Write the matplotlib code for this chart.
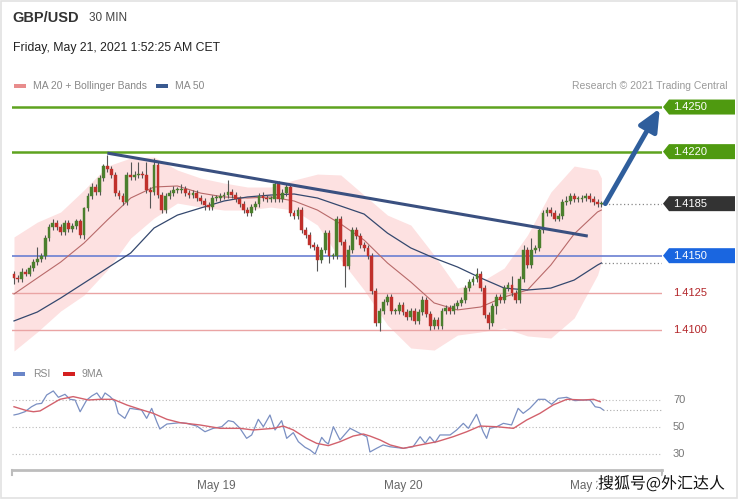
import numpy as np
import pandas as pd
import matplotlib
matplotlib.use("Agg")
import matplotlib.pyplot as plt
from matplotlib.patches import Polygon, Rectangle
from matplotlib.transforms import blended_transform_factory
import matplotlib.patheffects as pe

plt.rcParams['font.family'] = ['Liberation Sans', 'Noto Sans CJK SC', 'DejaVu Sans']

# 30 min candles, GBP/USD
closes = [1.4135, 1.4134, 1.4139, 1.4138, 1.4142, 1.4146, 1.4148, 1.4150, 1.4162, 1.4169,
          1.4172, 1.4169, 1.4166, 1.4172, 1.4168, 1.4170, 1.4173, 1.4164, 1.4182, 1.4190,
          1.4196, 1.4193, 1.4202, 1.4210, 1.4208, 1.4204, 1.4192, 1.4190, 1.4186, 1.4204,
          1.4203, 1.4204, 1.4205, 1.4204, 1.4194, 1.4193, 1.4211, 1.4191, 1.4181, 1.4190,
          1.4192, 1.4194, 1.4194, 1.4195, 1.4192, 1.4191, 1.4192, 1.4189, 1.4187, 1.4184,
          1.4183, 1.4189, 1.4189, 1.4190, 1.4191, 1.4193, 1.4191, 1.4188, 1.4185, 1.4181,
          1.4179, 1.4183, 1.4185, 1.4190, 1.4189, 1.4188, 1.4188, 1.4198, 1.4188, 1.4192,
          1.4196, 1.4179, 1.4177, 1.4181, 1.4167, 1.4164, 1.4157, 1.4156, 1.4147, 1.4154,
          1.4165, 1.4150, 1.4150, 1.4175, 1.4159, 1.4143, 1.4154, 1.4167, 1.4163, 1.4157,
          1.4155, 1.4150, 1.4126, 1.4105, 1.4113, 1.4119, 1.4122, 1.4113, 1.4113, 1.4117,
          1.4112, 1.4109, 1.4113, 1.4106, 1.4112, 1.4120, 1.4111, 1.4103, 1.4107, 1.4103,
          1.4113, 1.4115, 1.4113, 1.4116, 1.4118, 1.4120, 1.4128, 1.4132, 1.4134, 1.4138,
          1.4128, 1.4110, 1.4105, 1.4116, 1.4122, 1.4120, 1.4128, 1.4130, 1.4125, 1.4120,
          1.4134, 1.4154, 1.4144, 1.4154, 1.4155, 1.4167, 1.4179, 1.4181, 1.4179, 1.4175,
          1.4177, 1.4186, 1.4187, 1.4190, 1.4188, 1.4188, 1.4189, 1.4190, 1.4188, 1.4186,
          1.4185, 1.4185]
first_open = 1.4138

# wicks in pips beyond the body
upper_wick = [2, 2, 3, 2, 2, 2, 8, 2, 2, 2,
              3, 2, 2, 2, 2, 2, 2, 2, 1, 2,
              3, 2, 2, 2, 8, 2, 2, 2, 2, 2,
              9, 3, 8, 2, 9, 2, 5, 2, 2, 2,
              2, 3, 2, 3, 2, 2, 2, 2, 2, 2,
              2, 2, 2, 2, 2, 8, 2, 2, 2, 2,
              2, 2, 2, 2, 3, 2, 2, 2, 2, 3,
              3, 2, 2, 2, 2, 2, 2, 2, 2, 2,
              2, 2, 2, 2, 2, 2, 3, 2, 2, 2,
              2, 2, 2, 2, 2, 2, 2, 2, 2, 2,
              2, 2, 2, 2, 2, 3, 2, 2, 2, 2,
              2, 2, 2, 2, 2, 2, 2, 2, 2, 4,
              2, 2, 2, 2, 2, 2, 2, 2, 6, 2,
              2, 3, 2, 8, 2, 2, 2, 2, 2, 2,
              2, 2, 3, 2, 2, 2, 2, 2, 2, 2,
              2, 2]
lower_wick = [4, 2, 2, 2, 2, 2, 2, 2, 2, 2,
              2, 2, 2, 2, 2, 2, 2, 2, 3, 2,
              2, 2, 2, 2, 2, 2, 2, 2, 2, 2,
              2, 2, 2, 2, 2, 11, 2, 2, 2, 2,
              2, 2, 2, 2, 2, 2, 2, 2, 2, 3,
              2, 2, 2, 2, 2, 2, 2, 2, 2, 2,
              2, 2, 2, 2, 2, 2, 2, 2, 2, 2,
              2, 2, 2, 2, 2, 2, 2, 2, 7, 2,
              2, 5, 2, 2, 2, 14, 2, 2, 2, 2,
              2, 2, 2, 2, 6, 2, 2, 2, 2, 2,
              2, 2, 2, 2, 2, 2, 2, 3, 2, 2,
              2, 2, 2, 2, 2, 2, 2, 2, 2, 2,
              2, 2, 4, 2, 5, 2, 2, 2, 2, 2,
              2, 2, 2, 2, 2, 2, 2, 2, 2, 2,
              2, 2, 2, 2, 2, 2, 2, 2, 2, 2,
              2, 2]

# indicators read every 6 candles
ind_idx = [0, 6, 12, 18, 24, 30, 36, 42, 48, 54, 60, 66, 72, 78, 84, 90, 96, 102,
           108, 114, 120, 126, 132, 138, 144, 150, 151]
ma20 = [1.41242, 1.41350, 1.41457, 1.41585, 1.41740, 1.41888, 1.41962, 1.41969, 1.41921,
        1.41895, 1.41888, 1.41895, 1.41868, 1.41807, 1.41713, 1.41605, 1.41451, 1.41323,
        1.41182, 1.41135, 1.41155, 1.41222, 1.41269, 1.41437, 1.41646, 1.41794, 1.41807]
bb_upper = [1.41626, 1.41726, 1.41794, 1.41942, 1.42103, 1.42157, 1.42164, 1.42076, 1.42022,
            1.41989, 1.41962, 1.41962, 1.42009, 1.42049, 1.42043, 1.41908, 1.41773, 1.41706,
            1.41504, 1.41282, 1.41323, 1.41417, 1.41639, 1.41928, 1.42103, 1.42076, 1.42022]
bb_lower = [1.40859, 1.40987, 1.41128, 1.41235, 1.41404, 1.41619, 1.41753, 1.41854, 1.41827,
            1.41807, 1.41807, 1.41827, 1.41807, 1.41706, 1.41471, 1.41269, 1.41034, 1.40879,
            1.40865, 1.40966, 1.40987, 1.41013, 1.40960, 1.40946, 1.41081, 1.41370, 1.41457]
ma50 = [1.41061, 1.41121, 1.41215, 1.41316, 1.41417, 1.41518, 1.41686, 1.41773, 1.41821,
        1.41868, 1.41895, 1.41908, 1.41915, 1.41888, 1.41834, 1.41780, 1.41652, 1.41552,
        1.41484, 1.41424, 1.41350, 1.41282, 1.41269, 1.41282, 1.41336, 1.41437, 1.41451]

levels = [1.4250, 1.4220, 1.4185, 1.4150, 1.4125, 1.4100]
level_labels = ['1.4250', '1.4220', '1.4185', '1.4150', '1.4125', '1.4100']

trend_idx = [24, 147.5]
trend_price = [1.42190, 1.41632]
arrow_idx = [152, 166]
arrow_price = [1.4185, 1.4249]

rsi_idx = [0, 1.1, 2.8, 4.5, 5.8, 7.1, 8.4, 10.1, 11.4, 13.1, 14.4, 15.7, 17.0, 18.7, 20.0,
           21.3, 22.5, 23.4, 24.7, 26.0, 26.8, 28.5, 29.8, 31.5, 32.8, 34.1, 35.4, 36.7, 37.5,
           39.3, 41.0, 42.7, 44.4, 47.0, 49.1, 51.2, 53.4, 55.1, 56.4, 58.1, 59.8, 61.1, 62.8,
           64.1, 65.8, 67.1, 68.8, 70.1, 71.8, 73.1, 74.8, 76.1, 77.4, 79.1, 80.0, 80.8, 82.1,
           83.8, 86.4, 88.9, 90.7, 91.5, 93.2, 94.9, 96.6, 100.0, 102.6, 104.4, 105.7, 106.9,
           108.2, 109.5, 112.1, 113.8, 115.5, 116.8, 118.9, 120.6, 121.5, 122.3, 124.1, 125.8,
           127.9, 129.6, 130.9, 132.6, 134.8, 136.5, 138.2, 139.9, 142.1, 144.2, 146.4, 148.1,
           149.4, 150.7, 151.5]
rsi_val = [58.9, 59.6, 61.3, 65.0, 67.0, 67.5, 73.7, 76.7, 72.0, 74.2, 70.5, 70.0, 61.3, 70.0,
           73.0, 75.2, 70.5, 75.2, 72.5, 68.7, 60.1, 56.4, 63.8, 63.1, 62.6, 56.4, 63.8, 53.9,
           48.5, 52.2, 52.7, 53.2, 52.7, 50.7, 46.5, 49.0, 50.2, 54.7, 53.9, 49.0, 41.6, 44.1,
           55.7, 50.2, 58.9, 47.8, 54.7, 41.6, 45.8, 39.1, 35.0, 33.0, 30.0, 42.3, 39.1, 37.4,
           50.2, 40.4, 49.0, 45.3, 42.8, 31.5, 34.2, 36.7, 35.4, 34.2, 35.4, 42.8, 37.9, 42.8,
           38.4, 44.1, 44.1, 47.8, 52.7, 49.0, 59.4, 46.5, 41.6, 49.0, 50.2, 52.7, 51.5, 63.8,
           60.1, 63.8, 70.5, 70.5, 66.8, 71.2, 72.0, 69.5, 70.0, 70.0, 65.0, 64.3, 62.6]
rsi_ma_idx = [0, 3.3, 5.0, 6.7, 9.3, 11.8, 15.2, 19.1, 22.1, 25.5, 29.0, 32.4, 35.8, 39.3,
              42.7, 47.8, 53.0, 58.1, 61.5, 66.7, 69.2, 71.8, 75.2, 77.8, 80.8, 83.8, 87.2,
              89.8, 91.5, 94.1, 96.7, 100.1, 104.4, 108.7, 112.9, 116.4, 119.8, 124.1, 128.4,
              131.8, 135.2, 138.6, 142.1, 146.4, 149.0, 150.7]
rsi_ma_val = [65.0, 62.1, 61.3, 61.9, 66.3, 70.5, 72.5, 70.0, 70.5, 70.5, 66.3, 63.1, 60.1,
              55.7, 53.2, 51.5, 49.0, 49.0, 47.8, 49.0, 50.7, 47.8, 41.6, 37.9, 36.2, 39.1,
              43.3, 44.8, 43.3, 40.4, 36.7, 34.2, 36.7, 39.1, 42.8, 46.5, 50.7, 50.2, 49.0,
              55.2, 60.1, 66.3, 70.5, 70.0, 70.5, 68.7]
rsi_levels = [70, 50, 30]

times = pd.date_range(end='2021-05-21 01:30', periods=len(closes), freq='30min')

# ---- figure, pixel based layout (738 x 500)
W, H = 738, 500
fig = plt.figure(figsize=(W / 100, H / 100), dpi=100)
fig.patch.set_facecolor('white')

def fx(px):
    return px / W

def fy(py):
    return 1 - py / H

ax = fig.add_axes([fx(12), fy(352), fx(650), (352 - 95) / H])
ax2 = fig.add_axes([fx(12), fy(470), fx(650), (470 - 385) / H])
xmin, xmax = -0.514, 166.58
for a in (ax, ax2):
    a.set_xlim(xmin, xmax)
    a.set_facecolor('none')
    for s in a.spines.values():
        s.set_visible(False)
    a.set_yticks([])
ax.set_xticks([])
ax.set_ylim(1.40852, 1.42581)
ax2.set_ylim(18.15, 81.1)

x = np.arange(len(closes))
c = np.array(closes)
o = np.concatenate([[first_open], c[:-1]])
hi = np.maximum(o, c) + np.array(upper_wick) * 0.0001
lo = np.minimum(o, c) - np.array(lower_wick) * 0.0001

# bollinger band + MAs
ax.fill_between(ind_idx, bb_lower, bb_upper, color='#fde1e1', lw=0, zorder=1)
ax.plot(ind_idx, ma20, color='#b86a6a', lw=0.8, zorder=3)
ax.plot(ind_idx, ma50, color='#34486e', lw=0.9, zorder=3)

# key levels
ax.axhline(levels[0], color='#5ea31f', lw=1.8, zorder=2)
ax.axhline(levels[1], color='#5ea31f', lw=1.8, zorder=2)
ax.axhline(levels[3], color='#6a7fd2', lw=1.2, zorder=2)
ax.axhline(levels[4], color='#eaa4a4', lw=1.0, zorder=2)
ax.axhline(levels[5], color='#eaa4a4', lw=1.0, zorder=2)
ax.hlines(levels[2], x[-1], xmax, color='#888888', lw=0.9, linestyles=(0, (1, 2)), zorder=2)
ax.hlines(ma50[-1], ind_idx[-1], xmax, color='#888888', lw=0.9, linestyles=(0, (1, 2)), zorder=2)

# candles
up = c >= o
col = np.where(up, '#4b7f2d', '#c0302b')
ax.vlines(x, lo, hi, color='#555555', lw=0.8, zorder=4)
body_h = np.maximum(np.abs(c - o), 0.00006)
ax.bar(x, body_h, bottom=np.minimum(o, c), width=0.72, color=col, edgecolor=col,
       lw=0.3, zorder=5)

# trendline + projection arrow
ax.plot(trend_idx, trend_price, color='#3a5080', lw=2.2, zorder=6, solid_capstyle='butt')
ax.annotate('', xy=(arrow_idx[1], arrow_price[1]), xytext=(arrow_idx[0], arrow_price[0]),
            arrowprops=dict(arrowstyle='-|>,head_length=1.1,head_width=0.5', lw=3.5,
                            color='#2f5e9c', mutation_scale=12, shrinkA=0, shrinkB=0),
            zorder=7, annotation_clip=False)

# right side tags
tr = blended_transform_factory(ax.transAxes, ax.transData)
ppx = (1.42581 - 1.40852) / (352 - 95)
tag_cols = ['#4f9a10', '#4f9a10', '#333333', '#1a66e0']
for lvl, lab, tc in zip(levels[:4], level_labels[:4], tag_cols):
    h = 7.5 * ppx
    verts = [(1 + 1 / 650, lvl), (1 + 7 / 650, lvl + h), (1 + 73 / 650, lvl + h),
             (1 + 73 / 650, lvl - h), (1 + 7 / 650, lvl - h)]
    ax.add_patch(Polygon(verts, closed=True, transform=tr, facecolor=tc, edgecolor='none',
                         clip_on=False, zorder=8))
    ax.text(1 + 11 / 650, lvl, lab, transform=tr, color='white', fontsize=8, va='center',
            ha='left', zorder=9, clip_on=False)
for lvl, lab in zip(levels[4:], level_labels[4:]):
    ax.text(1 + 11 / 650, lvl, lab, transform=tr, color='#b3262a', fontsize=8, va='center',
            ha='left', clip_on=False)

# RSI panel
tr2 = blended_transform_factory(ax2.transAxes, ax2.transData)
for lv in rsi_levels:
    ax2.axhline(lv, color='#bbbbbb', lw=0.8, linestyle=(0, (1, 2)))
    ax2.text(1 + 11 / 650, lv, str(lv), transform=tr2, color='#777777', fontsize=8,
             va='center', ha='left', clip_on=False)
ax2.hlines(rsi_val[-1], rsi_idx[-1], xmax, color='#aaaaaa', lw=0.8, linestyles=(0, (1, 2)))
ax2.plot(rsi_idx, rsi_val, color='#7a8fc2', lw=0.9)
ax2.plot(rsi_ma_idx, rsi_ma_val, color='#d2616c', lw=1.0)

ax2.spines['bottom'].set_visible(True)
ax2.spines['bottom'].set_color('#bdbdbd')
ax2.spines['bottom'].set_linewidth(2)
for xe in (0, 1):
    ax2.plot([xe, xe], [0, -0.06], transform=ax2.transAxes, color='#bdbdbd', lw=1.5,
             clip_on=False)
# only full days inside the window get a label
day_idx = [i for i, t in enumerate(times) if t.hour == 0 and t.minute == 0 and i > 24]
ax2.set_xticks(day_idx)
ax2.set_xticklabels([times[i].strftime('%b %d') for i in day_idx], color='#666666',
                    fontsize=8.5)
ax2.tick_params(axis='x', length=0, pad=7)

# header and legends
fig.text(fx(12), fy(18), 'GBP/USD', fontsize=10.5, fontweight='bold', color='#333333',
         va='center')
fig.text(fx(89), fy(18), '30 MIN', fontsize=8.5, color='#444444', va='center')
fig.text(fx(13), fy(48), 'Friday, May 21, 2021 1:52:25 AM CET', fontsize=8.8,
         color='#222222', va='center')

fig.patches.append(Rectangle((fx(14), fy(88)), fx(12), 4 / H, transform=fig.transFigure,
                             facecolor='#e88c8c', edgecolor='none'))
fig.text(fx(33), fy(86), 'MA 20 + Bollinger Bands', fontsize=7.5, color='#888888', va='center')
fig.patches.append(Rectangle((fx(156), fy(88)), fx(12), 4 / H, transform=fig.transFigure,
                             facecolor='#3a5a90', edgecolor='none'))
fig.text(fx(175), fy(86), 'MA 50', fontsize=7.5, color='#888888', va='center')
fig.text(fx(728), fy(86), 'Research \u00a9 2021 Trading Central', fontsize=7.5,
         color='#9a9a9a', va='center', ha='right')

fig.patches.append(Rectangle((fx(13), fy(376)), fx(12), 4 / H, transform=fig.transFigure,
                             facecolor='#6a86c8', edgecolor='none'))
fig.text(fx(33), fy(374), 'RSI', fontsize=7.5, color='#888888', va='center')
fig.patches.append(Rectangle((fx(63), fy(376)), fx(12), 4 / H, transform=fig.transFigure,
                             facecolor='#d42020', edgecolor='none'))
fig.text(fx(82), fy(374), '9MA', fontsize=7.5, color='#888888', va='center')

# frame
fig.patches.append(Rectangle((0.001, 0.004), 0.997, 0.995, transform=fig.transFigure,
                             facecolor='none', edgecolor='#e2e2e2', lw=1.2))

# watermark (overlaps the last date label, as in the source image)
fig.text(fx(598), fy(484), '搜狐号@外汇达人', fontsize=11.5, color='#111111', va='center',
         family=['Noto Sans CJK SC', 'DejaVu Sans'],
         path_effects=[pe.withStroke(linewidth=3, foreground='white')])

fig.savefig('out.png', dpi=100)
